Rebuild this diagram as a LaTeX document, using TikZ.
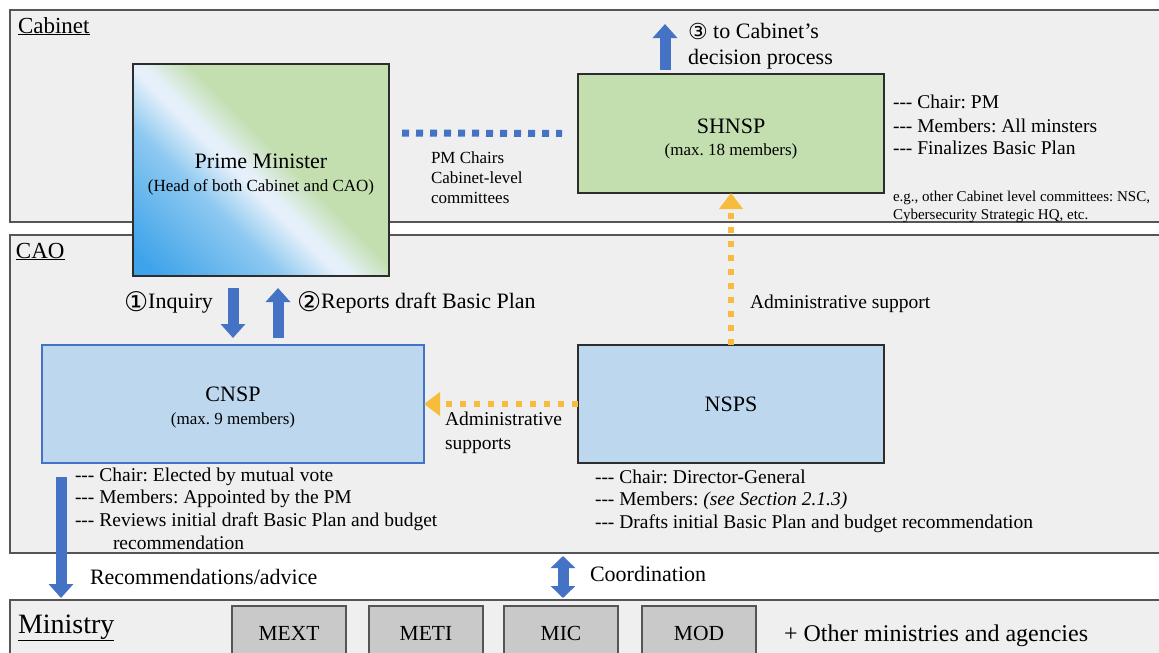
\documentclass[tikz,border=0pt]{standalone}
\usepackage{fontspec}
\setmainfont{Liberation Serif}
\newfontfamily\symf{DejaVu Sans}
\usetikzlibrary{arrows.meta,calc}
\definecolor{panelbg}{RGB}{239,239,239}
\definecolor{panelline}{RGB}{85,85,85}
\definecolor{pmgreen}{RGB}{195,223,176}
\definecolor{pmblue}{RGB}{62,163,234}
\definecolor{pmlight}{RGB}{140,200,240}
\definecolor{pmwhite}{RGB}{230,240,250}
\definecolor{boxblue}{RGB}{189,215,238}
\definecolor{boxblueline}{RGB}{68,114,196}
\definecolor{arrowblue}{RGB}{68,114,196}
\definecolor{amber}{RGB}{248,188,60}
\definecolor{mingray}{RGB}{201,201,201}
\definecolor{boxline}{RGB}{45,45,45}
\pgfdeclarehorizontalshading{pmshade}{100bp}{color(0bp)=(pmblue); color(18bp)=(pmblue); color(37bp)=(pmlight); color(46bp)=(pmwhite); color(48bp)=(pmwhite); color(55bp)=(pmgreen); color(100bp)=(pmgreen)}
\newcommand{\dsh}{\mbox{-}\mbox{-}\mbox{-}}
\newcommand{\circnum}[1]{\raisebox{-3pt}{\symf\fontsize{27}{27}\selectfont #1}}
\newcommand{\pushdown}[1]{\rule{0pt}{#1}}
\tikzset{
  panel/.style={draw=panelline, fill=panelbg, line width=2pt, anchor=north west},
  greenbox/.style={draw=boxline, fill=pmgreen, line width=1.3pt, align=center},
  bluebox/.style={draw=boxblueline, fill=boxblue, line width=1.2pt, align=center},
  nspsbox/.style={draw=boxline, fill=boxblue, line width=1.3pt, align=center},
  minbox/.style={draw=panelline, fill=mingray, line width=1.5pt, anchor=north west, minimum width=114pt, minimum height=54pt, font=\fontsize{21.5}{24}\selectfont},
  lbl/.style={anchor=base west},
  f15/.style={font=\fontsize{15}{17}\selectfont},
  f17/.style={font=\fontsize{17}{20}\selectfont},
  f19/.style={font=\fontsize{19.5}{22}\selectfont},
  f21/.style={font=\fontsize{22}{25}\selectfont},
  blockarrow/.style={draw=arrowblue, line width=11pt, -{Triangle[length=14pt,width=24pt]}},
  dblarrow/.style={draw=arrowblue, line width=11pt, {Triangle[length=12pt,width=24pt]}-{Triangle[length=12pt,width=24pt]}},
  amberarrow/.style={draw=amber, line width=6pt, dash pattern=on 6pt off 8pt, -{Triangle[length=16pt,width=23pt,fill=amber]}},
  bluedots/.style={draw=arrowblue, line width=7pt, dash pattern=on 7pt off 7pt}
}
\begin{document}
\frenchspacing
\begin{tikzpicture}[x=1pt,y=-1pt, every node/.style={inner sep=0pt, outer sep=0pt}]
\useasboundingbox (0,0) rectangle (1159,653);
\fill[white] (0,0) rectangle (1159,653);
\begin{scope}
\clip (0,0) rectangle (1159,653);
% panels
\node[panel, minimum width=1170pt, minimum height=212pt] (cabinet) at (10,10) {};
\node[panel, minimum width=1170pt, minimum height=318pt] (cao) at (10,235) {};
\node[panel, minimum width=1170pt, minimum height=80pt] (ministry) at (10,600) {};
\node[lbl, font=\fontsize{23}{26}\selectfont] (cabl) at (18,33) {\underline{Cabinet}};
\node[lbl, font=\fontsize{23}{26}\selectfont] (caol) at (16,258) {\underline{CAO}};
\node[lbl, font=\fontsize{28}{32}\selectfont] (minl) at (18,633) {\underline{Ministry}};

% Prime Minister
\node[draw=boxline, line width=1.3pt, shading=pmshade, shading angle=45, minimum width=256pt, minimum height=212pt, align=center, font=\fontsize{17}{23}\selectfont] (pm) at (261,170)
  {\pushdown{24pt}{\fontsize{22}{23}\selectfont Prime Minister}\\(Head of both Cabinet and CAO)};
% SHNSP
\node[greenbox, minimum width=306pt, minimum height=119pt, font=\fontsize{17}{22}\selectfont] (shnsp) at (731,133.5)
  {\pushdown{26pt}{\fontsize{22}{23}\selectfont SHNSP}\\(max. 18 members)};
% CNSP
\node[bluebox, minimum width=382pt, minimum height=118pt, font=\fontsize{17}{23}\selectfont] (cnsp) at (233,404)
  {\pushdown{22pt}{\fontsize{22}{23}\selectfont CNSP}\\(max. 9 members)};
% NSPS
\node[nspsbox, minimum width=306pt, minimum height=118pt, font=\fontsize{22}{24}\selectfont] (nsps) at (731,404) {NSPS};

% dotted line PM -- SHNSP
\coordinate (dotA) at ($(pm.east)+(13,-37)$);
\coordinate (dotB) at ($(shnsp.west)+(-16,0)$);
\draw[bluedots] (dotA) -- (dotB);
\node[lbl, f17] (pmc1) at (431,163) {PM Chairs};
\node[lbl, f17] (pmc2) at (431,183) {Cabinet-level};
\node[lbl, f17] (pmc3) at (431,203) {committees};

% to cabinet decision
\coordinate (upA) at ($(shnsp.north)+(-66,-4)$);
\coordinate (upB) at ($(shnsp.north)+(-66,-50)$);
\draw[blockarrow] (upA) -- (upB);
\node[lbl, f21] (dec1) at (688,38) {\raisebox{-1pt}{\symf\fontsize{22}{22}\selectfont ③} to Cabinet’s};
\node[lbl, f21] (dec2) at (688,64) {decision process};

% SHNSP notes
\node[lbl, f19] (sn1) at (893,108) {\dsh{} Chair: PM};
\node[lbl, f19] (sn2) at (893,132) {\dsh{} Members: All minsters};
\node[lbl, f19] (sn3) at (893,154) {\dsh{} Finalizes Basic Plan};
\node[lbl, f15] (eg1) at (893,201) {e.g., other Cabinet level committees: NSC,};
\node[lbl, f15] (eg2) at (893,219) {Cybersecurity Strategic HQ, etc.};

% Inquiry / Reports arrows
\coordinate (inqA) at ($(pm.south -| 233,0)+(0,12)$);
\coordinate (inqB) at ($(cnsp.north -| 233,0)+(0,-7)$);
\draw[blockarrow] (inqA) -- (inqB);
\coordinate (repA) at ($(cnsp.north -| 278,0)+(0,-7)$);
\coordinate (repB) at ($(pm.south -| 278,0)+(0,12)$);
\draw[blockarrow] (repA) -- (repB);
\node[lbl, f21] (inq) at (124,308) {\circnum{①}Inquiry};
\node[lbl, f21] (rep) at (297,308) {\circnum{②}Reports draft Basic Plan};

% administrative supports
\draw[amberarrow] (nsps.north) -- (shnsp.south);
\node[lbl, f19] (adm1) at (750,308) {Administrative support};
\draw[amberarrow] (nsps.west) -- (cnsp.east);
\node[lbl, f19] (adm2) at (445,425) {Administrative};
\node[lbl, f19] (adm3) at (445,449) {supports};

% CNSP notes
\node[lbl, f19] (cn1) at (75,481) {\dsh{} Chair: Elected by mutual vote};
\node[lbl, f19] (cn2) at (75,503) {\dsh{} Members: Appointed by the PM};
\node[lbl, f19] (cn3) at (75,526) {\dsh{} Reviews initial draft Basic Plan and budget};
\node[lbl, f19] (cn4) at (113,549) {recommendation};

% NSPS notes
\node[lbl, f19] (nn1) at (595,483) {\dsh{} Chair: Director-General};
\node[lbl, f19] (nn2) at (595,505) {\dsh{} Members: \textit{(see Section 2.1.3)}};
\node[lbl, f19] (nn3) at (595,528) {\dsh{} Drafts initial Basic Plan and budget recommendation};

% recommendations arrow
\coordinate (recA) at (61,477);
\coordinate (recB) at ($(ministry.north west)+(51,-2)$);
\draw[blockarrow] (recA) -- (recB);
\node[lbl, f21] (rec) at (90,584) {Recommendations/advice};

% coordination
\coordinate (coA) at ($(cao.south west)+(553,3)$);
\coordinate (coB) at ($(ministry.north west)+(553,-2)$);
\draw[dblarrow] (coA) -- (coB);
\node[lbl, f21] (coord) at (590,581) {Coordination};

% ministries
\node[minbox] (mext) at (232,606) {MEXT};
\node[minbox] (meti) at (369,606) {METI};
\node[minbox] (mic) at (504,606) {MIC};
\node[minbox] (mod) at (642,606) {MOD};
\node[lbl, font=\fontsize{24}{27}\selectfont] (other) at (784,641) {+ Other ministries and agencies};
\end{scope}
\end{tikzpicture}
\end{document}
